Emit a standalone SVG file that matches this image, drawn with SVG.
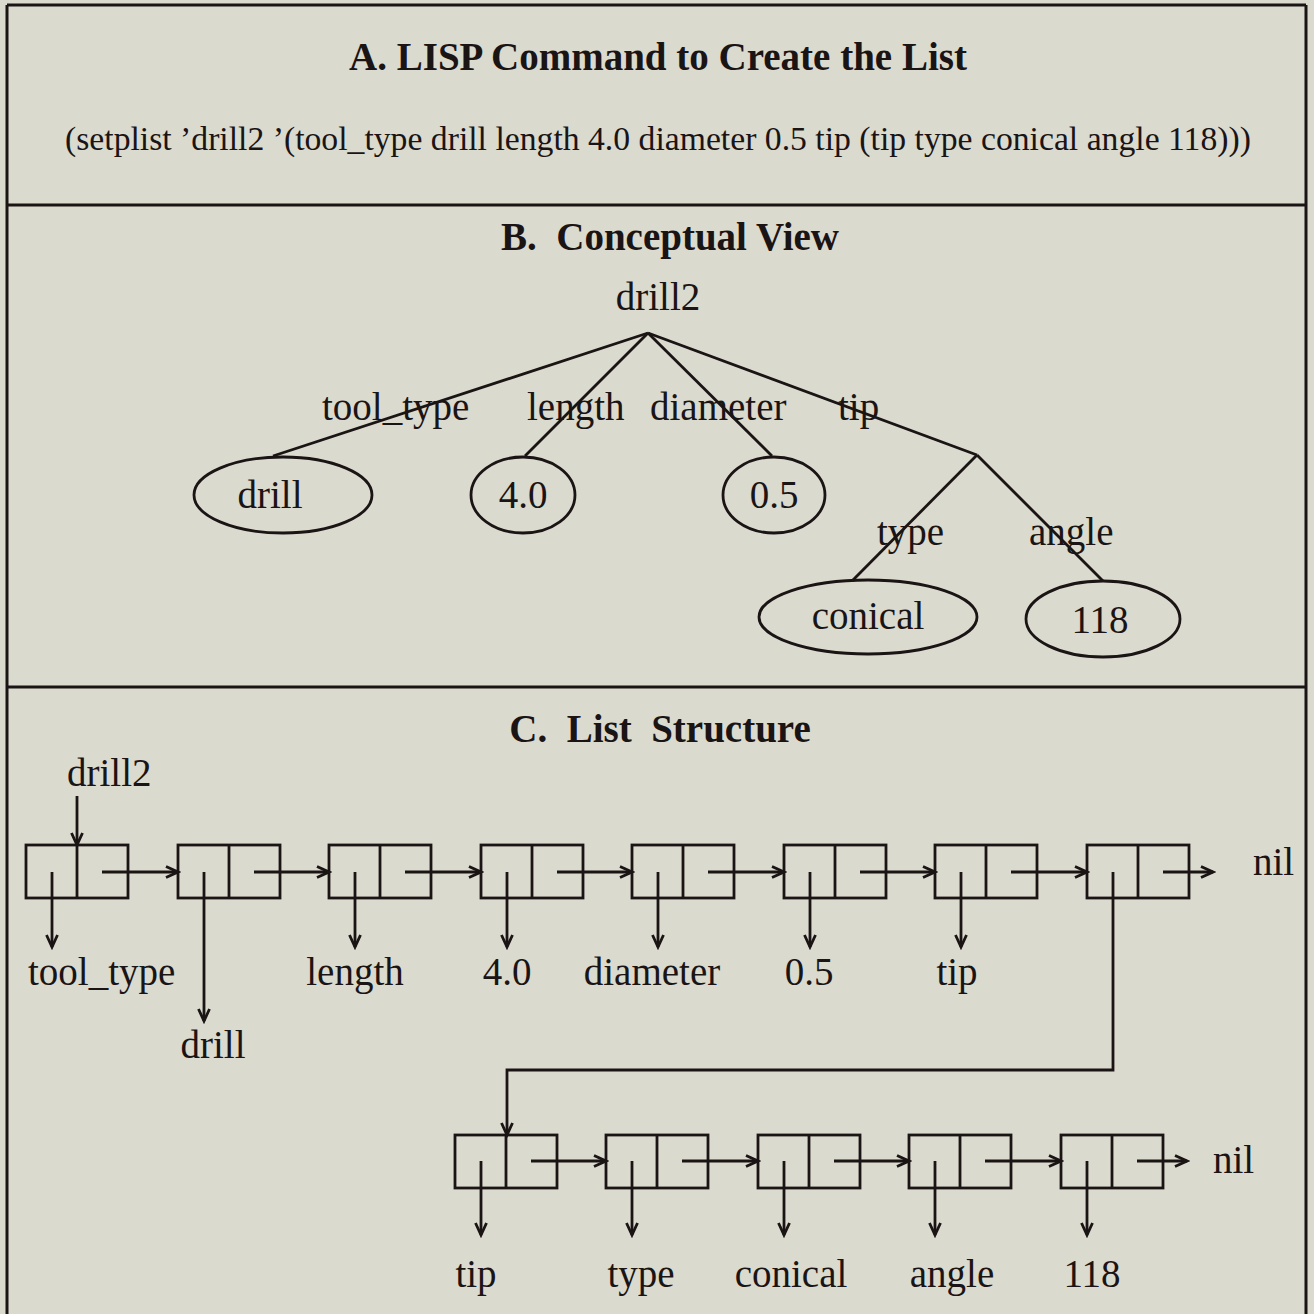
<svg xmlns="http://www.w3.org/2000/svg" width="1314" height="1314" viewBox="0 0 1314 1314">
<style>
text{font-family:"Liberation Serif","Times New Roman",serif;fill:#1a1414}
.t{font-size:39px;font-weight:bold;text-anchor:middle}
.c{font-size:33.7px}
.l{font-size:39px}
.m{text-anchor:middle}
.ln{stroke:#1a1414;stroke-width:2.8;fill:none}
.cell{stroke:#1a1414;stroke-width:2.8;fill:none}
.el{stroke:#1a1414;stroke-width:2.8;fill:none}
.fr{stroke:#1a1414;stroke-width:3;fill:none}
</style>
<defs>
<marker id="ar" markerUnits="userSpaceOnUse" markerWidth="16" markerHeight="14" refX="13" refY="7" orient="auto">
<path d="M1,1.5 L13,7 L1,12.5" fill="none" stroke="#1a1414" stroke-width="2.8"/>
</marker>
<g id="cellshape">
<rect x="0" y="0" width="102" height="53" class="cell"/>
<line x1="51" y1="0" x2="51" y2="53" class="ln"/>
</g>
</defs>
<rect width="1314" height="1314" fill="#dadacf"/>
<g id="frame">
<line x1="7" y1="5" x2="1306" y2="5" class="fr"/>
<line x1="7" y1="5" x2="7" y2="1314" class="fr"/>
<line x1="1306" y1="5" x2="1306" y2="1314" class="fr"/>
<line x1="7" y1="205" x2="1306" y2="205" class="fr"/>
<line x1="7" y1="687" x2="1306" y2="687" class="fr"/>
</g>
<g id="sectionA">
<text class="t" x="658" y="70">A. LISP Command to Create the List</text>
<text class="c" x="65" y="150">(setplist ’drill2 ’(tool_type drill length 4.0 diameter 0.5 tip (tip type conical angle 118)))</text>
</g>
<g id="sectionB">
<text class="t" x="670" y="250" xml:space="preserve">B.  Conceptual View</text>
<g id="connectors-tree">
<line x1="648" y1="333" x2="273" y2="456" class="ln"/>
<line x1="648" y1="333" x2="525" y2="456" class="ln"/>
<line x1="648" y1="333" x2="772" y2="456" class="ln"/>
<line x1="648" y1="333" x2="977" y2="455" class="ln"/>
<line x1="977" y1="455" x2="852" y2="581" class="ln"/>
<line x1="977" y1="455" x2="1103" y2="581" class="ln"/>
</g>
<g id="root"><text class="l m" x="658" y="310">drill2</text></g>
<g id="edge-labels">
<text class="l" x="322" y="420">tool_type</text>
<text class="l" x="527" y="420">length</text>
<text class="l" x="650" y="420">diameter</text>
<text class="l" x="838" y="420">tip</text>
<text class="l" x="877" y="545">type</text>
<text class="l" x="1029" y="545">angle</text>
</g>
<g id="n-drill"><ellipse cx="283" cy="495" rx="89" ry="38" class="el"/><text class="l m" x="270" y="508">drill</text></g>
<g id="n-4.0"><ellipse cx="523" cy="495" rx="52" ry="38" class="el"/><text class="l m" x="523" y="508">4.0</text></g>
<g id="n-0.5"><ellipse cx="774" cy="495" rx="51" ry="38" class="el"/><text class="l m" x="774" y="508">0.5</text></g>
<g id="n-conical"><ellipse cx="868" cy="617" rx="109" ry="37" class="el"/><text class="l m" x="868" y="629">conical</text></g>
<g id="n-118"><ellipse cx="1103" cy="619" rx="77" ry="38" class="el"/><text class="l m" x="1100" y="633">118</text></g>
</g>
<g id="sectionC">
<text class="t" x="660" y="742" xml:space="preserve">C.  List  Structure</text>
<g id="row1-cells">
<use href="#cellshape" x="26" y="845"/>
<use href="#cellshape" x="178" y="845"/>
<use href="#cellshape" x="329" y="845"/>
<use href="#cellshape" x="481" y="845"/>
<use href="#cellshape" x="632" y="845"/>
<use href="#cellshape" x="784" y="845"/>
<use href="#cellshape" x="935" y="845"/>
<use href="#cellshape" x="1087" y="845"/>
</g>
<g id="row2-cells">
<use href="#cellshape" x="455" y="1135"/>
<use href="#cellshape" x="606" y="1135"/>
<use href="#cellshape" x="758" y="1135"/>
<use href="#cellshape" x="909" y="1135"/>
<use href="#cellshape" x="1061" y="1135"/>
</g>
<g id="connectors" class="ln" marker-end="url(#ar)">
<line x1="77" y1="796" x2="77" y2="845"/>
<line x1="102" y1="872" x2="178" y2="872"/>
<line x1="254" y1="872" x2="329" y2="872"/>
<line x1="405" y1="872" x2="481" y2="872"/>
<line x1="557" y1="872" x2="632" y2="872"/>
<line x1="708" y1="872" x2="784" y2="872"/>
<line x1="860" y1="872" x2="935" y2="872"/>
<line x1="1011" y1="872" x2="1087" y2="872"/>
<line x1="1163" y1="872" x2="1213" y2="872"/>
<line x1="52" y1="872" x2="52" y2="947"/>
<line x1="204" y1="872" x2="204" y2="1021"/>
<line x1="355" y1="872" x2="355" y2="947"/>
<line x1="507" y1="872" x2="507" y2="947"/>
<line x1="658" y1="872" x2="658" y2="947"/>
<line x1="810" y1="872" x2="810" y2="947"/>
<line x1="961" y1="872" x2="961" y2="947"/>
<polyline points="1113,872 1113,1070 507,1070 507,1135"/>
<line x1="531" y1="1161" x2="606" y2="1161"/>
<line x1="682" y1="1161" x2="758" y2="1161"/>
<line x1="834" y1="1161" x2="909" y2="1161"/>
<line x1="985" y1="1161" x2="1061" y2="1161"/>
<line x1="1137" y1="1161" x2="1187" y2="1161"/>
<line x1="481" y1="1161" x2="481" y2="1235"/>
<line x1="632" y1="1161" x2="632" y2="1235"/>
<line x1="784" y1="1161" x2="784" y2="1235"/>
<line x1="935" y1="1161" x2="935" y2="1235"/>
<line x1="1087" y1="1161" x2="1087" y2="1235"/>
</g>
<g id="row1-labels">
<text class="l" x="67" y="786">drill2</text>
<text class="l" x="28" y="985">tool_type</text>
<text class="l m" x="213" y="1058">drill</text>
<text class="l m" x="355" y="985">length</text>
<text class="l m" x="507" y="985">4.0</text>
<text class="l m" x="652" y="985">diameter</text>
<text class="l m" x="809" y="985">0.5</text>
<text class="l m" x="957" y="985">tip</text>
<text class="l" x="1253" y="875">nil</text>
</g>
<g id="row2-labels">
<text class="l m" x="476" y="1287">tip</text>
<text class="l m" x="641" y="1287">type</text>
<text class="l m" x="791" y="1287">conical</text>
<text class="l m" x="952" y="1287">angle</text>
<text class="l m" x="1092" y="1287">118</text>
<text class="l" x="1213" y="1173">nil</text>
</g>
</g>
</svg>
